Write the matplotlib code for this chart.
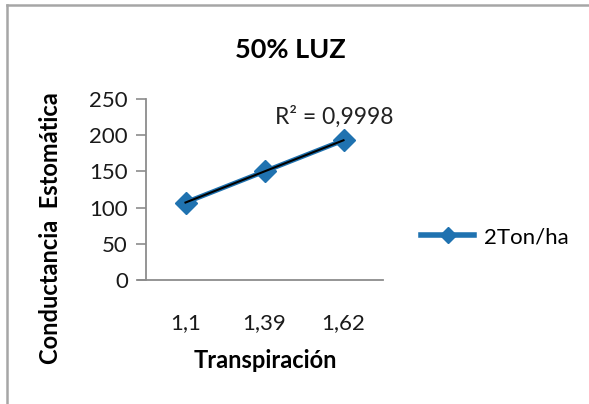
import numpy as np
import matplotlib
matplotlib.use("Agg")
import matplotlib.pyplot as plt
from matplotlib.lines import Line2D

plt.rcParams['font.family'] = ['Lato', 'DejaVu Sans']

# data
categories = ["1,1", "1,39", "1,62"]
values = [107, 150, 193]
series_name = "2Ton/ha"
r2_label = "R² = 0,9998"

blue = "#1f72b0"
gray = "#8c8c8c"
W, H = 589, 404

fig = plt.figure(figsize=(W / 100, H / 100), dpi=100)
ax = fig.add_axes([146 / W, 124 / H, 237 / W, 181 / H])

x = np.arange(1, len(values) + 1)
ax.plot(x, values, color=blue, lw=3.5, marker="D", ms=11, mec=blue, mfc=blue,
        zorder=3)

# linear trendline (Excel style)
coef = np.polyfit(x, values, 1)
ax.plot(x, np.polyval(coef, x), color="black", lw=1.5, zorder=4)
ax.text(2.13, 226, r2_label, fontsize=16.5, color="#222222", va="center", ha="left")

ax.set_xlim(0.5, 3.5)
ax.set_ylim(0, 250)
ax.set_yticks([0, 50, 100, 150, 200, 250])
ax.set_xticks(x)
ax.set_xticklabels(categories)
ax.tick_params(axis="y", labelsize=16, length=7, color=gray, width=1.2, pad=6,
               labelcolor="#1a1a1a")
ax.tick_params(axis="x", labelsize=16, length=0, pad=24, labelcolor="#1a1a1a")

for s in ["top", "right"]:
    ax.spines[s].set_visible(False)
for s in ["left", "bottom"]:
    ax.spines[s].set_color(gray)
    ax.spines[s].set_linewidth(1.3)
ax.spines["bottom"].set_bounds(0.4, 3.5)

ax.set_xlabel("Transpiración", fontsize=17, fontweight="bold")
ax.xaxis.set_label_coords(0.502, -0.442)
ax.xaxis.label.set_va("center")
ax.set_ylabel("Conductancia  Estomática", fontsize=17, fontweight="bold")
ax.yaxis.set_label_coords(-0.401, 0.287)
ax.yaxis.label.set_va("center")

fig.text(290 / W, 1 - 50 / H, "50% LUZ", fontsize=19.5, fontweight="bold",
         ha="center", va="center")

handle = Line2D([], [], color=blue, lw=4, marker="D", ms=8)
fig.legend([handle], [series_name], loc="center left",
           bbox_to_anchor=(421 / W, 1 - 237 / H), frameon=False,
           fontsize=16, handlelength=2.4, handletextpad=0.45,
           borderpad=0, borderaxespad=0)

# chart area border (top and left edges visible)
fig.add_artist(Line2D([7 / W, 1], [1 - 5 / H, 1 - 5 / H], transform=fig.transFigure,
                      color="#a6a6a6", lw=1.8))
fig.add_artist(Line2D([7 / W, 7 / W], [0, 1 - 5 / H], transform=fig.transFigure,
                      color="#a6a6a6", lw=1.8))

fig.savefig("out.png", dpi=100)
